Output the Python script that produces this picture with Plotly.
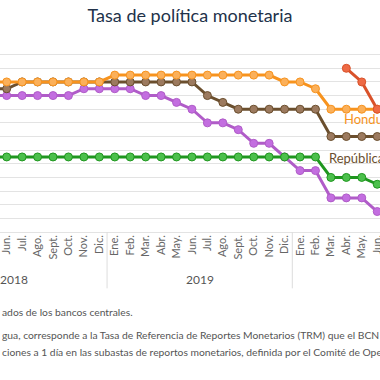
import plotly.graph_objects as go

# Month index: 0 = Jun 2018 ... 24 = Jun 2020 (index -1 = May 2018)
months = list(range(-1, 25))
month_names = ["Ene.", "Feb.", "Mar.", "Abr.", "May.", "Jun.", "Jul.", "Ago.", "Sept.", "Oct.", "Nov.", "Dic."]

honduras = [5.5, 5.5, 5.5, 5.5, 5.5, 5.5, 5.5, 5.5,
            5.75, 5.75, 5.75, 5.75, 5.75, 5.75, 5.75, 5.75, 5.75, 5.75, 5.75,
            5.5, 5.5, 5.25, 4.5, 4.5, 4.5, 4.5]
rep_dominicana = [5.25, 5.25, 5.5, 5.5, 5.5, 5.5, 5.5, 5.5,
                  5.5, 5.5, 5.5, 5.5, 5.5, 5.5, 5.0, 4.75, 4.5, 4.5, 4.5,
                  4.5, 4.5, 4.5, 3.5, 3.5, 3.5, 3.5]
guatemala = [2.75] * 22 + [2.0, 2.0, 2.0, 1.75]
costa_rica = [5.0, 5.0, 5.0, 5.0, 5.0, 5.0, 5.25, 5.25,
              5.25, 5.25, 5.0, 5.0, 4.75, 4.5, 4.0, 4.0, 3.75, 3.25, 3.25,
              2.75, 2.25, 2.25, 1.25, 1.25, 1.25, 0.75]
nicaragua_months = [22, 23, 24]
nicaragua = [6.0, 5.5, 4.5]

year_labels = ["2018", "2019", "2020"]
year_centers = [0.5, 12.5, 24.5]
separators = [6.5, 18.5]

series = [
    ("Costa Rica", months, costa_rica, "#b05cc8", "#c36ee0"),
    ("Guatemala", months, guatemala, "#1f961f", "#4cc04c"),
    ("República Dominicana", months, rep_dominicana, "#6b4f2e", "#9c7a5f"),
    ("Honduras", months, honduras, "#f7931e", "#fbb05a"),
    ("Nicaragua", nicaragua_months, nicaragua, "#d9522a", "#ee6a45"),
]

fig = go.Figure()
for name, xs, ys, lc, mc in series:
    fig.add_trace(go.Scatter(
        x=xs, y=ys, mode="lines+markers", name=name,
        line=dict(color=lc, width=3),
        marker=dict(size=8, color=mc, line=dict(color=lc, width=1)),
    ))

tickvals = list(range(-1, 25))
ticktext = [month_names[(i + 5) % 12] for i in tickvals]

font_family = "Lato, 'Open Sans', sans-serif"

fig.update_layout(
    width=380, height=380,
    margin=dict(l=0, r=0, t=41, b=148, autoexpand=False),
    paper_bgcolor="white", plot_bgcolor="white",
    showlegend=False,
    font=dict(family=font_family, color="#555555"),
    title=dict(text="Tasa de política monetaria", x=0.5, xanchor="center",
               y=0.96, yanchor="middle", automargin=False,
               font=dict(size=18, color="#22324a", family=font_family)),
)
fig.update_xaxes(
    range=[-0.434, 24.18], tickmode="array", tickvals=tickvals, ticktext=ticktext,
    tickangle=-90, tickfont=dict(size=11, color="#666666"), automargin=False,
    ticklabeloverflow="allow",
    showgrid=False, zeroline=False, showline=False, ticks="",
)
fig.update_yaxes(
    range=[0, 7], dtick=0.5, showticklabels=False, showgrid=True, automargin=False,
    gridcolor="#e3e3e3", gridwidth=1, zeroline=True, zerolinecolor="#e3e3e3",
    zerolinewidth=1, ticks="",
)

for s in separators:
    fig.add_shape(type="line", xref="x", yref="paper", x0=s, x1=s, y0=0, y1=-0.295,
                  line=dict(color="#dddddd", width=1))

for lab, c in zip(year_labels, year_centers):
    fig.add_annotation(x=c, xref="x", y=-0.25, yref="paper", text=lab, showarrow=False,
                       xanchor="center", yanchor="middle",
                       font=dict(size=12, color="#555555"))

fig.add_annotation(x=21.7, xref="x", y=4.15, yref="y", text="Honduras", showarrow=False,
                   xanchor="left", yanchor="middle", font=dict(size=13, color="#f7931e"))
fig.add_annotation(x=20.72, xref="x", y=2.72, yref="y", text="República Dominicana",
                   showarrow=False, xanchor="left", yanchor="middle",
                   font=dict(size=13, color="#6b4f2e"))

notes = [
    ("ados de los bancos centrales.", 312),
    ("gua, corresponde a la Tasa de Referencia de Reportes Monetarios (TRM) que el BCN", 335),
    ("ciones a 1 día en las subastas de reportos monetarios, definida por el Comité de Operaciones", 352),
]
for txt, ypx in notes:
    fig.add_annotation(x=0, xref="paper", y=(231.7 - ypx) / 191.0, yref="paper", text=txt,
                       showarrow=False, xanchor="left", yanchor="middle", align="left",
                       font=dict(size=10.3, color="#555555"))

fig.write_html("out.html", config={"displayModeBar": False},
               post_script="document.body.style.margin='0';document.body.style.overflow='hidden';")
